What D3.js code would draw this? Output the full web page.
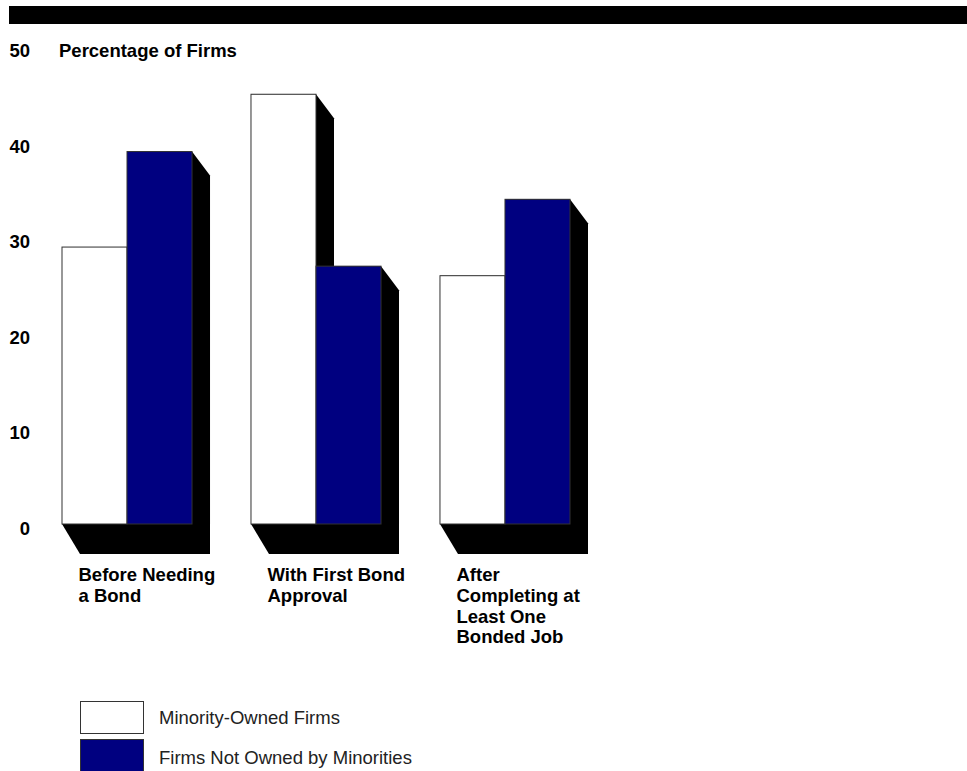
<!DOCTYPE html>
<html>
<head>
<meta charset="utf-8">
<script src="https://cdn.jsdelivr.net/npm/d3@7"></script>
<style>
  html, body { margin: 0; padding: 0; background: #fff; }
  svg { display: block; }
  text { font-family: "Liberation Sans", Arial, Helvetica, sans-serif; }
</style>
</head>
<body>
<script>
// ---- data ----
const categories = ["Before Needing a Bond", "With First Bond Approval", "After Completing at Least One Bonded Job"];
const categoryLines = [
  ["Before Needing", "a Bond"],
  ["With First Bond", "Approval"],
  ["After", "Completing at", "Least One", "Bonded Job"]
];
const seriesNames = ["Minority-Owned Firms", "Firms Not Owned by Minorities"];
const minorityOwned = [29, 45, 26];
const notMinorityOwned = [39, 27, 34];
const yTicks = [0, 10, 20, 30, 40, 50];
const yTitle = "Percentage of Firms";
const seriesColors = ["#ffffff", "#000080"];

// ---- layout ----
const W = 967, H = 771;
const svg = d3.select("body").append("svg").attr("width", W).attr("height", H);

// top black band
svg.append("rect").attr("x", 9).attr("y", 6).attr("width", W - 9).attr("height", 18).attr("fill", "#000");

const y = d3.scaleLinear().domain([0, 50]).range([524, 46.5]);
const x0 = d3.scaleBand().domain(categories).range([62, 570]).paddingInner(0.312).paddingOuter(0);
const x1 = d3.scaleBand().domain(seriesNames).range([0, x0.bandwidth()]).padding(0);

const dx = 18, dyTop = 24, dyFloor = 30;
const FS = "18.5px";

const rows = [];
categories.forEach((c, i) => {
  seriesNames.forEach((s, j) => {
    rows.push({cat: c, ser: s, si: j, value: j === 0 ? minorityOwned[i] : notMinorityOwned[i]});
  });
});

// shadows
const shadowG = svg.append("g");
rows.forEach(d => {
  const xl = x0(d.cat) + x1(d.ser);
  const xr = xl + x1.bandwidth();
  const yt = y(d.value), yb = y(0);
  const pts = [[xl, yt], [xr, yt], [xr + dx, yt + dyTop], [xr + dx, yb + dyFloor], [xl + dx, yb + dyFloor], [xl, yb]];
  shadowG.append("polygon").attr("points", pts.map(p => p.join(",")).join(" ")).attr("fill", "#000");
});

// bars
svg.append("g").selectAll("rect").data(rows).join("rect")
  .attr("x", d => x0(d.cat) + x1(d.ser))
  .attr("y", d => y(d.value))
  .attr("width", x1.bandwidth())
  .attr("height", d => y(0) - y(d.value))
  .attr("fill", d => seriesColors[d.si])
  .attr("stroke", "#333")
  .attr("stroke-width", 1);

// y axis
const yAxis = svg.append("g").attr("transform", "translate(31,0)")
  .call(d3.axisLeft(y).tickValues(yTicks).tickSize(0).tickPadding(1).tickFormat(d3.format("d")));
yAxis.select(".domain").remove();
yAxis.selectAll("text")
  .attr("dy", "0.55em")
  .attr("fill", "#000")
  .style("font-size", FS)
  .style("font-weight", "bold")
  .style("font-family", "'Liberation Sans', Arial, Helvetica, sans-serif");

svg.append("text").attr("x", 59).attr("y", y(50)).attr("dy", "0.55em")
  .style("font-size", FS).style("font-weight", "bold").text(yTitle);

// category labels
categories.forEach((c, i) => {
  const t = svg.append("text").attr("x", x0(c) + 16.5).attr("y", 581)
    .style("font-size", FS).style("font-weight", "bold");
  categoryLines[i].forEach((ln, k) => {
    t.append("tspan").attr("x", x0(c) + 16.5).attr("y", 581 + k * 20.8).text(ln);
  });
});

// legend
const lg = svg.append("g");
seriesNames.forEach((s, j) => {
  lg.append("rect").attr("x", 80.5).attr("y", 701.5 + j * 38).attr("width", 63).attr("height", 32)
    .attr("fill", seriesColors[j]).attr("stroke", "#333").attr("stroke-width", 1);
  lg.append("text").attr("x", 159).attr("y", 717.5 + j * 40.5).attr("dy", "0.35em")
    .style("font-size", FS).attr("fill", "#222").text(s);
});
</script>
</body>
</html>
